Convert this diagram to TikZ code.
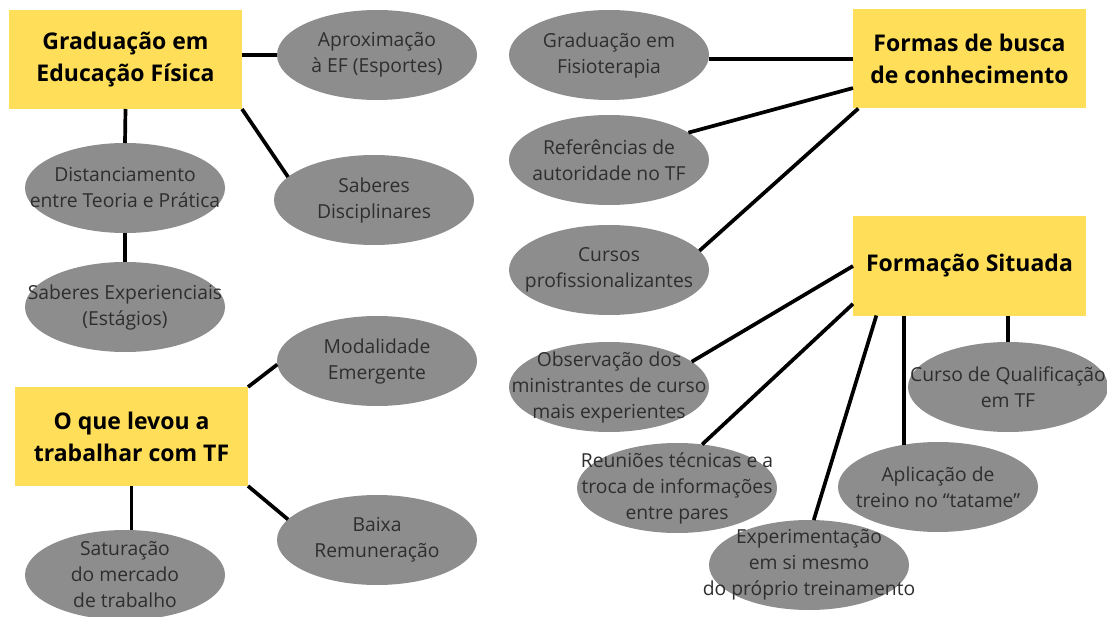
\documentclass[tikz,border=0pt]{standalone}
\usepackage{fontspec}
\setmainfont{Open Sans}
\usepackage{xcolor}
\usepackage{tikz}
\usetikzlibrary{shapes.geometric,positioning,calc}

\definecolor{boxyellow}{HTML}{FFDE59}
\definecolor{ovalgray}{HTML}{8D8D8D}
\definecolor{ovalink}{HTML}{2E2E2E}

\begin{document}
\begin{tikzpicture}[x=1pt, y=-1pt,
    theme/.style={rectangle, fill=boxyellow, minimum width=233pt, minimum height=99pt, outer sep=0pt, align=center, font=\fontsize{23}{32}\selectfont\bfseries},
    idea/.style={ellipse, fill=ovalgray, minimum width=200pt, minimum height=90pt, inner sep=0pt, outer sep=0pt},
    ideatext/.style={align=center, text=ovalink, inner sep=0pt, font=\fontsize{19.3}{26}\selectfont},
    link/.style={line width=3.7pt}
]

\useasboundingbox (0,0) rectangle (1107,617);

% Graduacao em Educacao Fisica
\node[theme] (gradef) at (125.5,59.5) {Graduação em\\Educação Física};
\node[idea, label={[ideatext]center:Aproximação\\à EF (Esportes)}] (aprox) at (377,55) {};
\node[idea, label={[ideatext]center:Distanciamento\\entre Teoria e Prática}] (dist) at (125,188) {};
\node[idea, label={[ideatext]center:Saberes\\Disciplinares}] (disc) at (374,200) {};
\node[idea, label={[ideatext]center:Saberes Experienciais\\(Estágios)}] (exper) at (125,307) {};

% O que levou a trabalhar com TF
\node[theme] (levou) at (131.5,436.5) {O que levou a\\trabalhar com TF};
\node[idea, label={[ideatext]center:Modalidade\\Emergente}] (modal) at (377,361) {};
\node[idea, label={[ideatext]center:Baixa\\Remuneração}] (baixa) at (377,540) {};
\node[idea, label={[ideatext]center:Saturação\\do mercado\\de trabalho}] (satur) at (125,575) {};

% Formas de busca de conhecimento
\node[theme] (busca) at (969.5,59) {Formas de busca\\de conhecimento};
\node[idea, label={[ideatext]center:Graduação em\\Fisioterapia}] (fisio) at (609,55) {};
\node[idea, label={[ideatext]center:Referências de\\autoridade no TF}] (refer) at (609,160) {};
\node[idea, label={[ideatext]center:Cursos\\profissionalizantes}] (cursos) at (609,270) {};

% Formacao Situada
\node[theme] (situada) at (969.5,266) {Formação Situada};
\node[idea, label={[ideatext]center:Observação dos\\ministrantes de curso\\mais experientes}] (observ) at (609,387) {};
\node[idea, label={[ideatext]center:Reuniões técnicas e a\\troca de informações\\entre pares}] (reuni) at (677,488) {};
\node[idea, label={[ideatext]center:Experimentação\\em si mesmo\\do próprio treinamento}] (experim) at (809,565) {};
\node[idea, label={[ideatext]center:Aplicação de\\treino no “tatame”}] (aplic) at (938,487) {};
\node[idea, label={[ideatext]center:Curso de Qualificação\\em TF}] (qualif) at (1008,387) {};

% Links - Graduacao
\draw[link] (gradef.east |- aprox.west) -- (aprox.west);
\draw[link] (gradef.south) -- (dist.north);
\draw[link] (gradef.south east) -- (disc.165);
\draw[link] (dist.south) -- (exper.north);

% Links - O que levou
\draw[link] (levou.north east) -- (modal.182);
\draw[link] (levou.south east) -- (baixa.167);
\draw[link] (levou.south) -- (levou.south |- satur.north);

% Links - Formas de busca
\draw[link] (busca.west) -- (busca.west -| fisio.east);
\draw[link] (busca.194) -- (refer.19);
\draw[link] (busca.204) -- (cursos.12);

% Links - Formacao Situada
\draw[link] (situada.west) -- (observ.17);
\draw[link] (situada.198) -- (reuni.60);
\draw[link] (situada.208) -- (experim.84);
\draw[link] (situada.south -| aplic.129) -- (aplic.129);
\draw[link] (situada.south -| qualif.north) -- (qualif.north);

\end{tikzpicture}
\end{document}
